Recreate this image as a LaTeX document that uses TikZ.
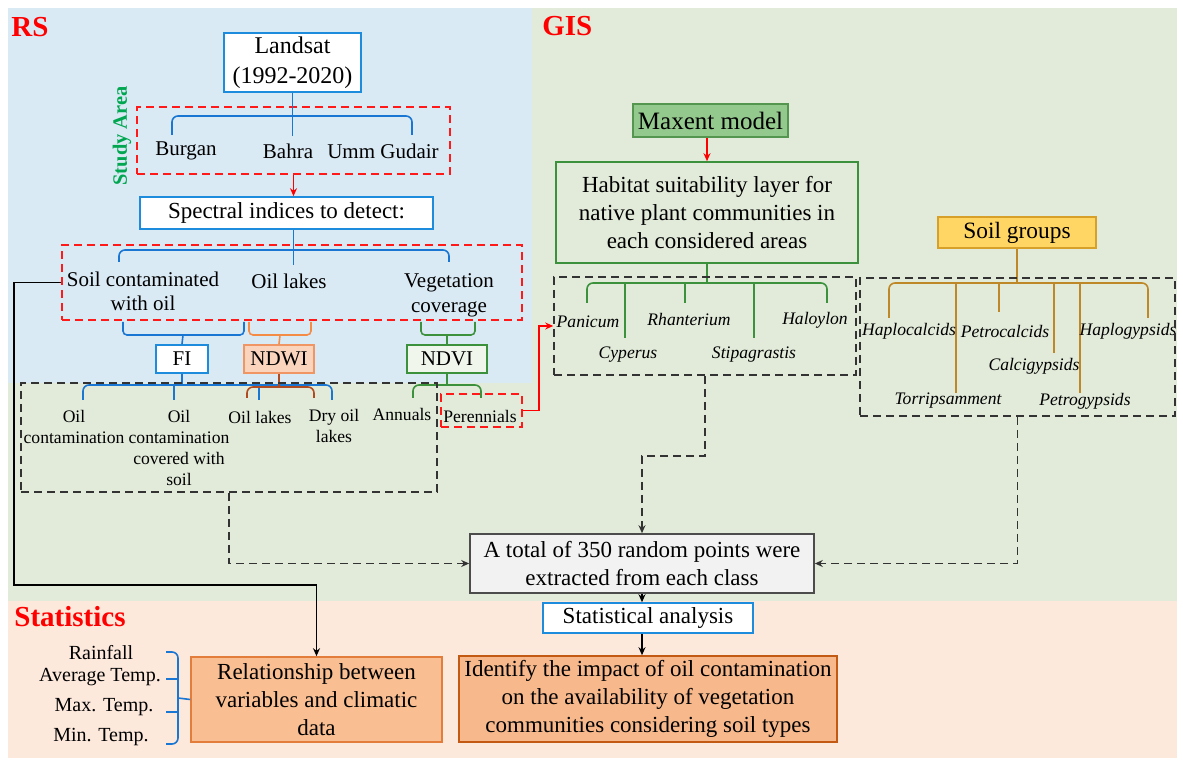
\documentclass[tikz,border=0pt]{standalone}
\usepackage{fontspec}
\setmainfont{Liberation Serif}
\usetikzlibrary{arrows.meta}
\definecolor{bgblue}{RGB}{218,234,245}
\definecolor{bggreen}{RGB}{226,235,218}
\definecolor{bgsalmon}{RGB}{253,232,220}
\definecolor{bluel}{RGB}{25,118,210}
\definecolor{bluebd}{RGB}{30,140,220}
\definecolor{orangel}{RGB}{245,140,70}
\definecolor{brownl}{RGB}{175,75,30}
\definecolor{greenl}{RGB}{60,145,60}
\definecolor{ndwifill}{RGB}{251,212,190}
\definecolor{ndwibd}{RGB}{240,150,100}
\definecolor{ndvifill}{RGB}{240,246,236}
\definecolor{maxfill}{RGB}{147,201,141}
\definecolor{maxbd}{RGB}{84,150,80}
\definecolor{soilfill}{RGB}{255,214,100}
\definecolor{soilbd}{RGB}{215,160,40}
\definecolor{goldl}{RGB}{190,135,40}
\definecolor{totfill}{RGB}{242,242,242}
\definecolor{relfill}{RGB}{249,190,145}
\definecolor{relbd}{RGB}{226,125,60}
\definecolor{idfill}{RGB}{247,184,140}
\definecolor{idbd}{RGB}{195,90,20}
\definecolor{studygreen}{RGB}{0,166,80}
\begin{document}
\begin{tikzpicture}[x=0.5pt,y=-0.5pt,
    >={Stealth[length=4pt,width=3.5pt]},
    every node/.style={font=\fontsize{11.5}{14}\selectfont},
    box/.style={draw, line width=0.8pt, inner sep=1pt, align=center},
    dashbox/.style={draw=black!80, line width=0.8pt, dash pattern=on 4pt off 2.5pt},
    reddash/.style={draw=red!90, line width=0.8pt, dash pattern=on 4pt off 2.5pt},
    dashline/.style={black!80, line width=0.8pt, dash pattern=on 4pt off 2.5pt},
    leaf/.style={font=\fontsize{8.8}{10.5}\selectfont, align=center, inner sep=0pt},
    spec/.style={font=\fontsize{8.8}{10.5}\selectfont\itshape, inner sep=0pt},
    mid/.style={font=\fontsize{10.5}{12}\selectfont, align=center, inner sep=0pt},
    clim/.style={font=\fontsize{10}{12}\selectfont, inner sep=0pt},
    title/.style={font=\fontsize{14.5}{16}\selectfont\bfseries, text=red, anchor=west, inner sep=0pt},
    ln/.style={line width=0.8pt}]
  \useasboundingbox (0,0) rectangle (1183,763);
  % panels
  \fill[white] (0,0) rectangle (1183,763);
  \fill[bgblue] (8,8) rectangle (532,383);
  \fill[bggreen] (532,8) rectangle (1177,601);
  \fill[bggreen] (8,383) rectangle (532,601);
  \fill[bgsalmon] (8,601) rectangle (1177,758);
  \node[title] (rs) at (11,27) {RS};
  \node[title] (gis) at (542,26) {GIS};
  \node[title] (stats) at (14,617) {Statistics};

  % RS
  \node[box, draw=bluebd, fill=white, minimum width=68.5pt, minimum height=29.5pt, font=\fontsize{12}{15}\selectfont] (landsat) at (292.5,62.5) {Landsat\\(1992-2020)};
  \node[reddash, minimum width=156.5pt, minimum height=33.5pt] (study) at (293.5,140.5) {};
  \node[rotate=90, text=studygreen, inner sep=0pt, font=\fontsize{10.2}{12}\selectfont\bfseries] (area) at (122,136) {Study Area};
  \draw[ln, bluel, rounded corners=3pt] (172,135) |- (292,116) -| (412,135);
  \draw[ln, bluel] (landsat.south) -- ++(0,43);
  \foreach \n/\x/\t in {burgan/186/Burgan, bahra/288/Bahra, umm/383/Umm Gudair}
    \node[mid] (\n) at (\x,151) {\t};
  \node[box, draw=bluebd, fill=white, minimum width=146.5pt, minimum height=16pt] (spectral) at (286.5,213) {Spectral indices to detect:};
  \draw[->, ln, red] (study.south) -- (study.south |- spectral.north);
  \node[reddash, minimum width=230pt, minimum height=37.5pt] (detect) at (292,282.5) {};
  \draw[ln, bluel, rounded corners=3pt] (119,262) |- (294,250) -| (449,262);
  \draw[ln, bluel] (study.south |- spectral.south) -- ++(0,35);
  \node[mid] (soil) at (143,291) {Soil contaminated\\with oil};
  \node[mid] (lakes) at (289,281) {Oil lakes};
  \node[mid, font=\fontsize{10.5}{12.5}\selectfont] (veg) at (449,295) {Vegetation\\coverage};

  \node[box, draw=bluebd, fill=white, minimum width=26pt, minimum height=14pt, font=\fontsize{10.5}{12}\selectfont] (fi) at (182,359) {FI};
  \node[box, draw=ndwibd, fill=ndwifill, minimum width=35pt, minimum height=14pt, font=\fontsize{10.5}{12}\selectfont] (ndwi) at (279,359) {NDWI};
  \node[box, draw=greenl, fill=ndvifill, minimum width=40pt, minimum height=14pt, font=\fontsize{10.5}{12}\selectfont] (ndvi) at (447,359) {NDVI};
  \draw[ln, bluel, rounded corners=2pt] (123,322) |- (183,335) -| (244,322);
  \draw[ln, bluel] (183,335) -- (fi.north);
  \draw[ln, orangel, rounded corners=2pt] (249,322) |- (280,335) -| (311,322);
  \draw[ln, orangel] (280,335) -- (ndwi.north);
  \draw[ln, greenl, rounded corners=2pt] (421,322) |- (447,335) -| (475,322);
  \draw[ln, greenl] (447,335) -- (ndvi.north);

  \draw[ln, bluel] (fi.south) -- (182,385);
  \draw[ln, bluel, rounded corners=3pt] (83,400) |- (182,385) -| (332,400);
  \foreach \x in {174,259} \draw[ln, bluel] (\x,385) -- (\x,400);
  \draw[ln, brownl] (ndwi.south) -- (279,387);
  \draw[ln, brownl, rounded corners=3pt] (247,398) |- (279,387) -| (314,398);
  \draw[ln, greenl] (ndvi.south) -- (447,385);
  \draw[ln, greenl, rounded corners=3pt] (413,398) |- (447,385) -| (481,398);
  \foreach \n/\x/\y/\t in {oc/74/427/{Oil\\contamination}, occ/179/448/{Oil\\contamination\\covered with\\soil}, ol/260/417/{Oil lakes}, dol/334/426/{Dry oil\\lakes}, ann/402/414/{Annuals}, per/480/416/{Perennials}}
    \node[leaf] (\n) at (\x,\y) {\t};
  \node[reddash, minimum width=40.5pt, minimum height=16.5pt] (perbox) at (481.5,410.5) {};
  \node[dashbox, minimum width=208pt, minimum height=54.5pt] (leafbox) at (229,437.5) {};

  % GIS
  \node[box, draw=maxbd, fill=maxfill, minimum width=77.5pt, minimum height=16.5pt, font=\fontsize{12.5}{14}\selectfont] (maxent) at (710.5,120.5) {Maxent model};
  \node[box, draw=greenl, minimum width=151pt, minimum height=50.5pt] (habitat) at (707,212.5) {Habitat suitability layer for\\native plant communities in\\each considered areas};
  \draw[->, ln, red] (habitat.north |- maxent.south) -- (habitat.north);
  \draw[ln, greenl] (habitat.south) -- ++(0,20);
  \draw[ln, greenl, rounded corners=3pt] (587,303) |- (707,283) -| (827,303);
  \foreach \x/\y in {625/338, 685/303, 754/338} \draw[ln, greenl] (\x,283) -- (\x,\y);
  \foreach \n/\x/\y/\t in {pan/588/322/Panicum, rha/689/320/Rhanterium, hal/815/320/Haloylon, cyp/628/355/Cyperus, sti/754/355/Stipagrastis}
    \node[spec] (\n) at (\x,\y) {\t};
  \node[dashbox, minimum width=151pt, minimum height=49pt] (spbox) at (705,326) {};
  \draw[->, ln, red] (perbox.east) -- (539,410.5) |- (spbox.west);

  \node[box, draw=soilbd, fill=soilfill, minimum width=79pt, minimum height=15.5pt, font=\fontsize{11.7}{14}\selectfont] (soilg) at (1017,232.5) {Soil groups};
  \draw[ln, goldl] (soilg.south) -- ++(0,35);
  \draw[ln, goldl, rounded corners=3pt] (889,318) |- (1017,283) -| (1148,318);
  \foreach \x/\y in {956/393, 999/312, 1054/353, 1080/393} \draw[ln, goldl] (\x,283) -- (\x,\y);
  \foreach \n/\x/\y/\t in {hc/909/331/Haplocalcids, pc/1005/331/Petrocalcids, hg/1128/331/Haplogypsids, cg/1034/366/Calcigypsids, tp/948/401/Torripsamment, pg/1085/401/Petrogypsids}
    \node[spec] (\n) at (\x,\y) {\t};
  \node[dashbox, minimum width=157.5pt, minimum height=69pt] (soilbox) at (1017.5,347) {};

  \node[box, draw=black!70, fill=totfill, minimum width=172pt, minimum height=29.5pt] (total) at (642,563.5) {A total of 350 random points were\\extracted from each class};
  \draw[->, dashline] (spbox.south) -- ++(0,80) -| (total.north);
  \draw[->, dashline] (leafbox.south) |- (total.west);
  \draw[->, dashline] (soilbox.south) |- (total.east);

  % Statistics
  \node[box, draw=bluebd, fill=white, minimum width=105pt, minimum height=15pt] (stat) at (648,618) {Statistical analysis};
  \node[box, draw=idbd, fill=idfill, minimum width=189pt, minimum height=43pt] (ident) at (648,699) {Identify the impact of oil contamination\\on the availability of vegetation\\communities considering soil types};
  \draw[->, ln] (total.south) -- (total.south |- stat.north);
  \draw[->, ln] (total.south |- stat.south) -- (total.south |- ident.north);
  \node[box, draw=relbd, fill=relfill, minimum width=125.5pt, minimum height=42.5pt] (rel) at (316.5,699.5) {Relationship between\\variables and climatic\\data};
  \draw[->, ln] (detect.west) -| (14,585) -| (rel.north);
  \foreach \n/\x/\y/\t in {rain/101/653/Rainfall, avg/100/677/Average Temp., max/104/707/Max. Temp., min/101/737/Min. Temp.}
    \node[clim] (\n) at (\x,\y) {\t};
  \draw[ln, bluel, rounded corners=3pt] (166,652) -| (178,744) -- (166,744);
  \foreach \y in {679,712} \draw[ln, bluel] (166,\y) -- (178,\y);
  \draw[ln, bluel] (178,698) -- (rel.west);
\end{tikzpicture}
\end{document}
